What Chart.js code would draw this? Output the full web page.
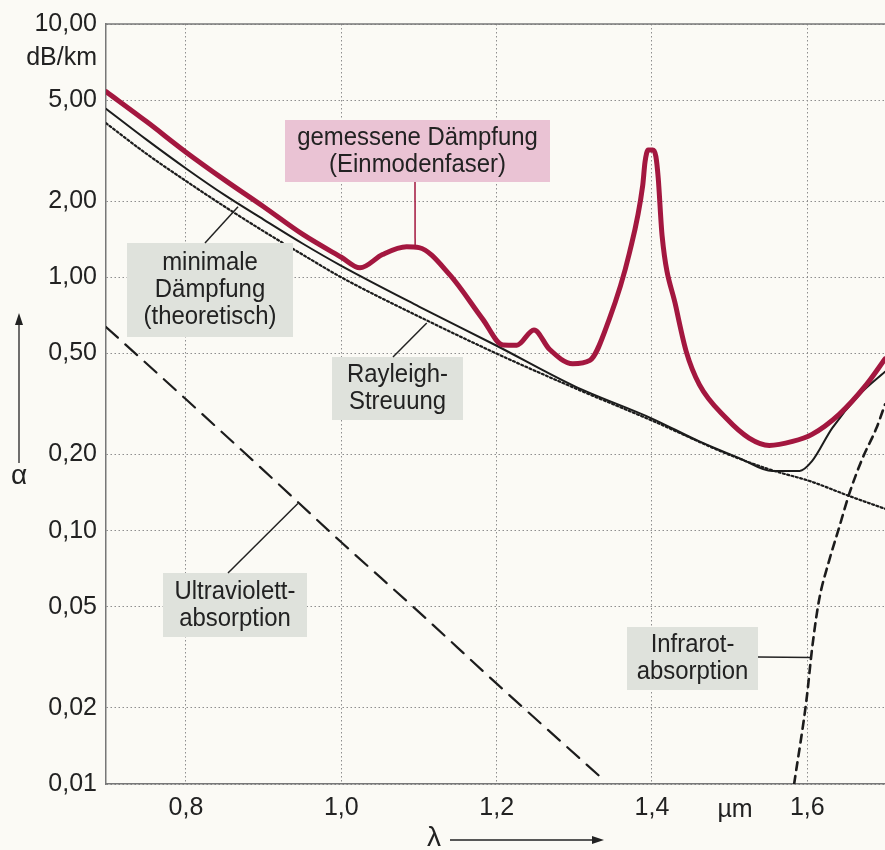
<!DOCTYPE html>
<html>
<head>
<meta charset="utf-8">
<script src="https://cdn.jsdelivr.net/npm/chart.js@4.4.1/dist/chart.umd.min.js"></script>
<style>
  html, body { margin: 0; padding: 0; background: #fbfaf5; }
  #wrap { width: 885px; height: 850px; }
</style>
</head>
<body>
<div id="wrap"><canvas id="chart" width="885" height="850"></canvas></div>
<script>
// tick labels
const xTicks = [0.8, 1.0, 1.2, 1.4, 1.6];
const yTicks = [0.01, 0.02, 0.05, 0.1, 0.2, 0.5, 1, 2, 5, 10];

// gemessene Dämpfung (Einmodenfaser)
const measuredX = [0.697, 0.75, 0.80, 0.85, 0.90, 0.95, 1.00, 1.024, 1.053, 1.084, 1.10, 1.14, 1.182, 1.208, 1.226, 1.248, 1.268, 1.298, 1.32, 1.345, 1.371, 1.388, 1.391, 1.395, 1.401, 1.405, 1.408, 1.413, 1.431, 1.444, 1.461, 1.496, 1.525, 1.551, 1.581, 1.606, 1.641, 1.676, 1.70];
const measuredY = [5.41, 4.10, 3.12, 2.42, 1.90, 1.48, 1.20, 1.09, 1.23, 1.32, 1.31, 1.02, 0.684, 0.541, 0.54, 0.62, 0.52, 0.456, 0.47, 0.684, 1.25, 2.30, 2.85, 3.18, 3.18, 3.0, 2.47, 1.46, 0.76, 0.51, 0.377, 0.277, 0.232, 0.217, 0.225, 0.24, 0.288, 0.377, 0.476];

// minimale Dämpfung (theoretisch)
const minimalX = [0.697, 0.75, 0.80, 0.85, 0.90, 0.95, 1.00, 1.10, 1.20, 1.30, 1.40, 1.461, 1.513, 1.555, 1.59, 1.606, 1.632, 1.667, 1.70];
const minimalY = [4.63, 3.48, 2.69, 2.11, 1.69, 1.36, 1.11, 0.767, 0.537, 0.372, 0.277, 0.225, 0.193, 0.172, 0.172, 0.188, 0.254, 0.344, 0.424];

// Rayleigh-Streuung
const rayleighX = [0.697, 0.75, 0.80, 0.85, 0.90, 0.95, 1.00, 1.10, 1.20, 1.30, 1.40, 1.50, 1.555, 1.603, 1.654, 1.70];
const rayleighY = [4.06, 3.06, 2.40, 1.90, 1.52, 1.23, 1.0, 0.70, 0.50, 0.366, 0.272, 0.199, 0.173, 0.157, 0.137, 0.122];

// Ultraviolettabsorption
const uvX = [0.697, 0.80, 0.90, 1.00, 1.10, 1.20, 1.336];
const uvY = [0.637, 0.33, 0.173, 0.09, 0.0477, 0.0249, 0.0105];

// Infrarotabsorption
const irX = [1.583, 1.599, 1.606, 1.615, 1.628, 1.641, 1.654, 1.671, 1.689, 1.70];
const irY = [0.01, 0.0216, 0.034, 0.053, 0.076, 0.103, 0.14, 0.193, 0.254, 0.315];

const pts = (xs, ys) => xs.map((x, i) => ({ x: x, y: ys[i] }));
const de = (v, d) => v.toFixed(d).replace('.', ',');

const FONT = '"Liberation Sans", Arial, Helvetica, sans-serif';
const INK = '#222';

// label boxes (pixels) and the data point each leader points to
const notes = [
  { lines: ['gemessene Dämpfung', '(Einmodenfaser)'], box: [285, 120, 550, 182], fill: '#eac3d4', from: [415, 182], to: { x: 1.095, y: 1.31 }, lead: '#a3173f' },
  { lines: ['minimale', 'Dämpfung', '(theoretisch)'], box: [127, 243, 293, 337], fill: '#dfe2dc', from: [205, 243], to: { x: 0.867, y: 1.9 }, lead: INK },
  { lines: ['Rayleigh-', 'Streuung'], box: [332, 357, 463, 420], fill: '#dfe2dc', from: [393, 357], to: { x: 1.11, y: 0.66 }, lead: INK },
  { lines: ['Ultraviolett-', 'absorption'], box: [163, 573, 307, 637], fill: '#dfe2dc', from: [228, 573], to: { x: 0.944, y: 0.128 }, lead: INK },
  { lines: ['Infrarot-', 'absorption'], box: [627, 627, 758, 690], fill: '#dfe2dc', from: [758, 657], to: { x: 1.606, y: 0.0316 }, lead: INK }
];

function narrowText(ctx, text, x, y) {
  ctx.save();
  ctx.translate(x, y);
  ctx.scale(0.92, 1);
  ctx.font = '26px ' + FONT;
  ctx.fillStyle = INK;
  ctx.textAlign = 'center';
  ctx.textBaseline = 'middle';
  ctx.fillText(text, 0, 0);
  ctx.restore();
}

function arrowHead(ctx, x, y, dir) {
  ctx.beginPath();
  if (dir === 'right') {
    ctx.moveTo(x, y); ctx.lineTo(x - 12, y - 4); ctx.lineTo(x - 12, y + 4);
  } else {
    ctx.moveTo(x, y); ctx.lineTo(x - 4, y + 12); ctx.lineTo(x + 4, y + 12);
  }
  ctx.closePath();
  ctx.fill();
}

const paperPlugin = {
  id: 'paper',
  beforeDraw(chart) {
    const ctx = chart.ctx;
    ctx.save();
    ctx.fillStyle = '#fbfaf5';
    ctx.fillRect(0, 0, chart.width, chart.height);
    ctx.restore();
  },
  afterDatasetsDraw(chart) {
    const ctx = chart.ctx;
    const xs = chart.scales.x, ys = chart.scales.y;
    const area = chart.chartArea;
    ctx.save();
    // top frame line
    ctx.strokeStyle = '#777';
    ctx.lineWidth = 1.5;
    ctx.beginPath();
    ctx.moveTo(area.left, area.top);
    ctx.lineTo(area.right, area.top);
    ctx.stroke();

    notes.forEach(n => {
      const [x1, y1, x2, y2] = n.box;
      ctx.fillStyle = n.fill;
      ctx.fillRect(x1, y1, x2 - x1, y2 - y1);
      ctx.strokeStyle = n.lead;
      ctx.lineWidth = 1.5;
      ctx.beginPath();
      ctx.moveTo(n.from[0], n.from[1]);
      ctx.lineTo(xs.getPixelForValue(n.to.x), ys.getPixelForValue(n.to.y));
      ctx.stroke();
      const cx = (x1 + x2) / 2;
      const lh = 27;
      const top = (y1 + y2) / 2 - lh * (n.lines.length - 1) / 2;
      n.lines.forEach((t, i) => narrowText(ctx, t, cx, top + i * lh));
    });

    // axis captions
    ctx.fillStyle = INK;
    ctx.strokeStyle = INK;
    ctx.font = '25px ' + FONT;
    ctx.textBaseline = 'middle';
    ctx.textAlign = 'right';
    ctx.fillText('dB/km', area.left - 9, 58);
    ctx.textAlign = 'center';
    ctx.fillText('\u00b5m', 735, 810);
    ctx.font = '28px ' + FONT;
    ctx.fillText('\u03bb', 434, 838);
    ctx.fillText('\u03b1', 19, 476);

    ctx.lineWidth = 1.3;
    ctx.beginPath();
    ctx.moveTo(450, 840); ctx.lineTo(596, 840);
    ctx.stroke();
    arrowHead(ctx, 604, 840, 'right');
    ctx.beginPath();
    ctx.moveTo(19, 463); ctx.lineTo(19, 322);
    ctx.stroke();
    arrowHead(ctx, 19, 313, 'up');
    ctx.restore();
  }
};

const line = (data, color, width, dash) => ({
  data: data,
  borderColor: color,
  borderWidth: width,
  borderDash: dash,
  pointRadius: 0,
  fill: false,
  cubicInterpolationMode: 'monotone',
  borderCapStyle: 'round',
  borderJoinStyle: 'round'
});

new Chart(document.getElementById('chart'), {
  type: 'line',
  data: {
    datasets: [
      line(pts(measuredX, measuredY), '#a3173f', 5, []),
      line(pts(minimalX, minimalY), '#1c1c1c', 2, []),
      line(pts(rayleighX, rayleighY), '#1c1c1c', 2.2, [2, 2.5]),
      line(pts(uvX, uvY), '#1c1c1c', 2.2, [16, 10]),
      line(pts(irX, irY), '#1c1c1c', 2.6, [8, 6])
    ]
  },
  options: {
    responsive: false,
    animation: false,
    devicePixelRatio: 1,
    layout: { padding: { top: 20, right: 0, left: 0, bottom: 0 } },
    plugins: { legend: { display: false }, tooltip: { enabled: false } },
    scales: {
      x: {
        type: 'linear',
        min: 0.697,
        max: 1.7,
        afterBuildTicks: s => { s.ticks = xTicks.map(v => ({ value: v })); },
        afterFit: s => { s.height = 66; },
        ticks: {
          callback: v => de(v, 1),
          font: { family: FONT, size: 25 },
          color: INK,
          padding: 9,
          maxRotation: 0,
          autoSkip: false
        },
        grid: { color: '#8e8e8e', lineWidth: 1, drawTicks: false },
        border: { display: true, color: '#777', width: 1.5, dash: [1.5, 2.5] }
      },
      y: {
        type: 'logarithmic',
        min: 0.01,
        max: 10,
        afterBuildTicks: s => { s.ticks = yTicks.map(v => ({ value: v })); },
        afterFit: s => { s.width = 106; },
        ticks: {
          callback: v => de(v, 2),
          font: { family: FONT, size: 25 },
          color: INK,
          padding: 9,
          autoSkip: false
        },
        grid: { color: '#8e8e8e', lineWidth: 1, drawTicks: false },
        border: { display: true, color: '#777', width: 1.5, dash: [1.5, 2.5] }
      }
    }
  },
  plugins: [paperPlugin]
});
</script>
</body>
</html>
